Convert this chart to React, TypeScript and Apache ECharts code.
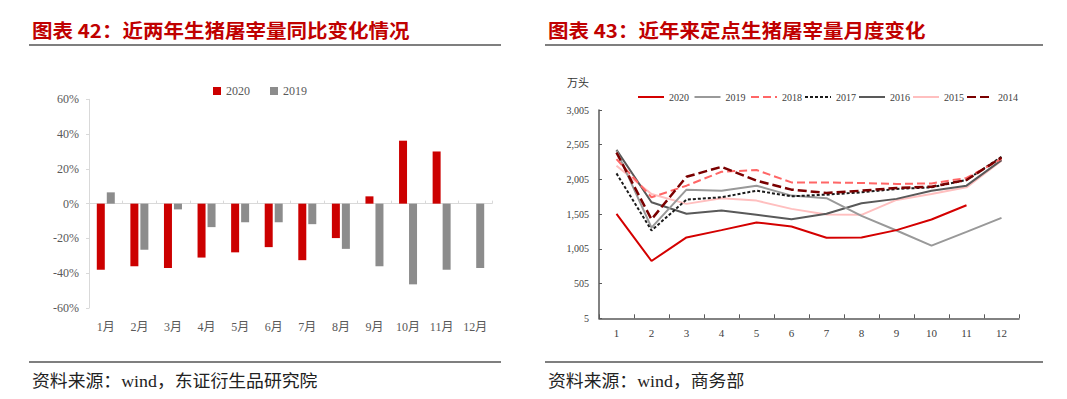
import React, { useEffect, useRef } from "react";
import * as echarts from "echarts";

// ---- Left chart data (同比, %) ----
const monthLabels = ["1月", "2月", "3月", "4月", "5月", "6月", "7月", "8月", "9月", "10月", "11月", "12月"];
const yoy2020: (number | null)[] = [-38, -36, -37, -31, -28, -25, -32.5, -19.8, 4.2, 36.2, 30, null];
const yoy2019: number[] = [6.5, -26.5, -3.3, -13.5, -10.7, -10.7, -11.8, -26, -36, -46.4, -38, -37];

// ---- Right chart data (万头) ----
const monthNums = ["1", "2", "3", "4", "5", "6", "7", "8", "9", "10", "11", "12"];
const yTickValues = [5, 505, 1005, 1505, 2005, 2505, 3005];
const s2020: (number | null)[] = [1510, 830, 1170, 1275, 1385, 1328, 1166, 1170, 1275, 1428, 1633, null];
const s2019 = [2420, 1310, 1858, 1843, 1915, 1772, 1735, 1480, 1270, 1052, 1250, 1452];
const s2018 = [2298, 1748, 1915, 2116, 2140, 1962, 1962, 1954, 1940, 1948, 2026, 2300];
const s2017 = [2092, 1270, 1715, 1748, 1843, 1762, 1786, 1819, 1868, 1891, 1997, 2331];
const s2016 = [2431, 1676, 1510, 1557, 1495, 1432, 1510, 1662, 1725, 1843, 1915, 2283];
const s2015 = [2202, 1796, 1653, 1733, 1700, 1581, 1500, 1495, 1710, 1796, 1891, 2275];
const s2014 = [2392, 1430, 2044, 2187, 1987, 1858, 1810, 1843, 1882, 1901, 1997, 2320];

const titleLeft = "图表 42：近两年生猪屠宰量同比变化情况";
const titleRight = "图表 43：近年来定点生猪屠宰量月度变化";
const sourceLeft = "资料来源：wind，东证衍生品研究院";
const sourceRight = "资料来源：wind，商务部";
const unitLabel = "万头";

const SERIF = "'Liberation Serif', 'Noto Sans CJK SC', serif";
const CJK = "'Noto Sans CJK SC', sans-serif";

export default function App() {
  const ref = useRef<HTMLDivElement>(null);
  useEffect(() => {
    if (!ref.current) return;
    const chart = echarts.init(ref.current, null, { renderer: "svg" });

    const lineSeries = (name: string, data: (number | null)[], color: string, type: any, width = 2) => ({
      name,
      type: "line",
      xAxisIndex: 2,
      yAxisIndex: 1,
      data,
      symbol: "none",
      showSymbol: false,
      lineStyle: { color, width, type },
      itemStyle: { color },
      z: 3,
    });

    const option: any = {
      animation: false,
      backgroundColor: "#ffffff",
      textStyle: { fontFamily: SERIF },
      legend: [
        {
          data: ["2020", "2019"],
          left: 208,
          top: 80,
          itemWidth: 8,
          itemHeight: 8,
          itemGap: 20,
          icon: "rect",
          textStyle: { fontFamily: SERIF, fontSize: 12, color: "#595959" },
        },
        {
          data: ["2020 ", "2019 ", "2018", "2017", "2016", "2015", "2014"],
          left: 632,
          top: 87,
          itemWidth: 26,
          itemHeight: 12,
          itemGap: 2,
          itemStyle: { opacity: 0 },
          textStyle: { fontFamily: SERIF, fontSize: 10, color: "#404040" },
        },
      ],
      grid: [
        { left: 89, top: 99.3, width: 403, height: 208.7, containLabel: false },
        { left: 599, top: 110, width: 420, height: 208.3, containLabel: false },
      ],
      xAxis: [
        {
          type: "category",
          gridIndex: 0,
          data: monthLabels,
          axisLine: { onZero: true, lineStyle: { color: "#d9d9d9", width: 1 } },
          axisTick: { show: true, inside: true, length: 3, lineStyle: { color: "#d9d9d9" } },
          axisLabel: { show: false },
        },
        {
          type: "category",
          gridIndex: 0,
          data: monthLabels,
          position: "bottom",
          axisLine: { show: false, onZero: false },
          axisTick: { show: false },
          axisLabel: { margin: 13, fontSize: 12, color: "#595959", fontFamily: SERIF },
        },
        {
          type: "category",
          gridIndex: 1,
          data: monthNums,
          axisLine: { onZero: false, lineStyle: { color: "#595959", width: 1.5 } },
          axisTick: { show: true, inside: true, length: 4, lineStyle: { color: "#595959" } },
          axisLabel: { margin: 9, fontSize: 11, color: "#404040", fontFamily: SERIF },
        },
      ],
      yAxis: [
        {
          type: "value",
          gridIndex: 0,
          min: -60,
          max: 60,
          interval: 20,
          axisLine: { show: true, lineStyle: { color: "#d9d9d9" } },
          axisTick: { show: true, length: 3, lineStyle: { color: "#d9d9d9" } },
          splitLine: { show: false },
          axisLabel: { formatter: "{value}%", fontSize: 12, color: "#595959", margin: 10, fontFamily: SERIF },
        },
        {
          type: "value",
          gridIndex: 1,
          min: 5,
          max: 3005,
          axisLine: { show: true, lineStyle: { color: "#595959", width: 1.5 } },
          axisTick: { show: true, inside: true, length: 3, customValues: yTickValues, lineStyle: { color: "#595959" } },
          splitLine: { show: false },
          axisLabel: {
            customValues: yTickValues,
            formatter: (v: number) => v.toLocaleString("en-US"),
            fontSize: 10,
            color: "#404040",
            margin: 10,
            fontFamily: SERIF,
          },
        },
      ],
      series: [
        {
          name: "2020",
          type: "bar",
          xAxisIndex: 0,
          yAxisIndex: 0,
          data: yoy2020,
          barWidth: 8,
          barGap: "25%",
          itemStyle: { color: "#cc0000" },
        },
        {
          name: "2019",
          type: "bar",
          xAxisIndex: 0,
          yAxisIndex: 0,
          data: yoy2019,
          barWidth: 8,
          barGap: "25%",
          itemStyle: { color: "#8c8c8c" },
        },
        lineSeries("2015", s2015, "#ffbfbf", "solid", 2),
        lineSeries("2016", s2016, "#595959", "solid", 2),
        lineSeries("2019 ", s2019, "#999999", "solid", 2),
        lineSeries("2017", s2017, "#1a1a1a", [3, 2], 2),
        lineSeries("2018", s2018, "#ff6666", [8, 4], 2),
        lineSeries("2014", s2014, "#7a0000", [9, 4], 2.5),
        lineSeries("2020 ", s2020, "#d40000", "solid", 2),
      ],
      graphic: [
        {
          type: "text",
          x: 32,
          y: 30,
          scaleX: 1.08,
          style: { text: titleLeft, fill: "#c00000", fontSize: 19, fontWeight: "bold", fontFamily: CJK, verticalAlign: "middle" },
        },
        {
          type: "text",
          x: 548,
          y: 30,
          scaleX: 1.08,
          style: { text: titleRight, fill: "#c00000", fontSize: 19, fontWeight: "bold", fontFamily: CJK, verticalAlign: "middle" },
        },
        { type: "line", shape: { x1: 29, y1: 45, x2: 501, y2: 45 }, style: { stroke: "#000", lineWidth: 1.2 } },
        { type: "line", shape: { x1: 545, y1: 45, x2: 1043, y2: 45 }, style: { stroke: "#000", lineWidth: 1.2 } },
        { type: "line", shape: { x1: 29, y1: 362, x2: 501, y2: 362 }, style: { stroke: "#000", lineWidth: 1.2 } },
        { type: "line", shape: { x1: 545, y1: 362, x2: 1043, y2: 362 }, style: { stroke: "#000", lineWidth: 1.2 } },
        {
          type: "text",
          x: 32,
          y: 381,
          scaleX: 1.05,
          style: { text: sourceLeft, fill: "#222", fontSize: 17, fontFamily: SERIF, verticalAlign: "middle" },
        },
        {
          type: "text",
          x: 548,
          y: 381,
          scaleX: 1.05,
          style: { text: sourceRight, fill: "#222", fontSize: 17, fontFamily: SERIF, verticalAlign: "middle" },
        },
        {
          type: "text",
          x: 567,
          y: 82,
          style: { text: unitLabel, fill: "#333", fontSize: 11, fontFamily: CJK, verticalAlign: "middle" },
        },
      ],
    };
    chart.setOption(option);
    return () => chart.dispose();
  }, []);
  return <div ref={ref} style={{ position: "fixed", left: 0, top: 0, width: 1067, height: 399 }} />;
}
